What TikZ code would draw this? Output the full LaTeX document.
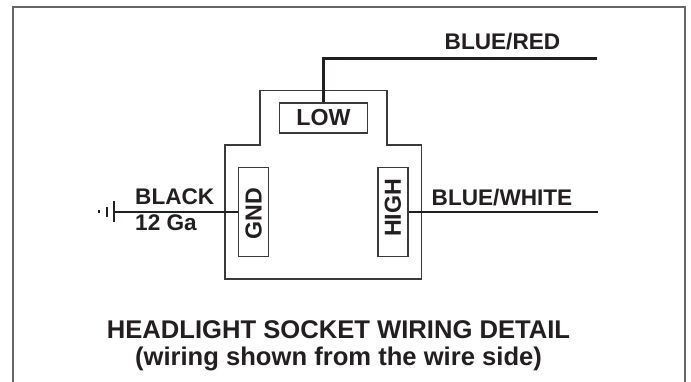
\documentclass[tikz,border=0pt]{standalone}
\usepackage{fontspec}
\setmainfont{Liberation Sans}
\definecolor{frameg}{HTML}{666666}
\definecolor{ink}{HTML}{231F20}
\definecolor{thing}{HTML}{3A3A3A}
\tikzset{
  outline/.style={draw=thing,line width=1.5pt,line join=miter},
  pinbox/.style={draw=thing,line width=1.4pt,fill=white,inner sep=0pt,text=ink,font=\bfseries\fontsize{23.2}{23.2}\selectfont},
  wire/.style={draw=ink,line width=2.8pt},
  lbl/.style={text=ink,font=\bfseries\fontsize{22.6}{22.6}\selectfont,inner sep=0pt,anchor=base west},
  captext/.style={text=ink,font=\bfseries\fontsize{25.6}{25.6}\selectfont,inner sep=0pt,anchor=base}
}
\begin{document}
\begin{tikzpicture}[x=1pt,y=-1pt]
\useasboundingbox (0,0) rectangle (691,382);
\fill[white] (0,0) rectangle (691,382);
% frame
\draw[frameg,line width=2.4pt] (13,382) -- (13,7) -- (685,7) -- (685,382);
% socket outline
\draw[outline] (225,145) -- (260,145) -- (260,90.5) -- (387,90.5) -- (387,145) -- (421.5,145) -- (421.5,279) -- (225,279) -- cycle;
% pin boxes
\node[pinbox,minimum width=88pt,minimum height=30pt] (low) at (323.5,118) {LOW};
\node[pinbox,minimum width=30pt,minimum height=88.5pt] (gnd) at (253.7,212) {\rotatebox{90}{GND\hspace{3pt}}};
\node[pinbox,minimum width=30pt,minimum height=88.5pt] (high) at (393,212) {\rotatebox{90}{\hspace{8pt}HIGH}};
% free wire ends
\coordinate (redend) at (596.7,58.3);
\coordinate (redcorner) at (low.north |- redend);
\coordinate (whiteend) at (597.7,212);
\coordinate (gndbar) at (114,212);
\coordinate (gndbarTop) at (114,201.5);
\coordinate (gndbarBot) at (114,222.5);
\coordinate (gndmidTop) at (107,207);
\coordinate (gndmidBot) at (107,217);
% wires
\draw[wire] (low.north) -- (redcorner) -- (redend);
\draw[wire] (gnd.west |- gndbar) -- (gndbar);
\draw[wire] (high.east |- whiteend) -- (whiteend);
% ground symbol
\draw[ink,line width=2.2pt] (gndbarTop) -- (gndbarBot);
\draw[ink,line width=2pt] (gndmidTop) -- (gndmidBot);
\fill[ink] (98,210.5) rectangle (100.2,213.5);
% labels
\node[lbl] (t1) at (444.5,50) {BLUE/RED};
\node[lbl] (t2) at (431.5,205.5) {BLUE/WHITE};
\node[lbl] (t3) at (135,205) {BLACK};
\node[lbl] (t4) at (135,231) {12 Ga};
\node[captext] (c1) at (338.5,338.5) {HEADLIGHT SOCKET WIRING DETAIL};
\node[captext] (c2) at (338.5,365.5) {(wiring shown from the wire side)};
\end{tikzpicture}
\end{document}
